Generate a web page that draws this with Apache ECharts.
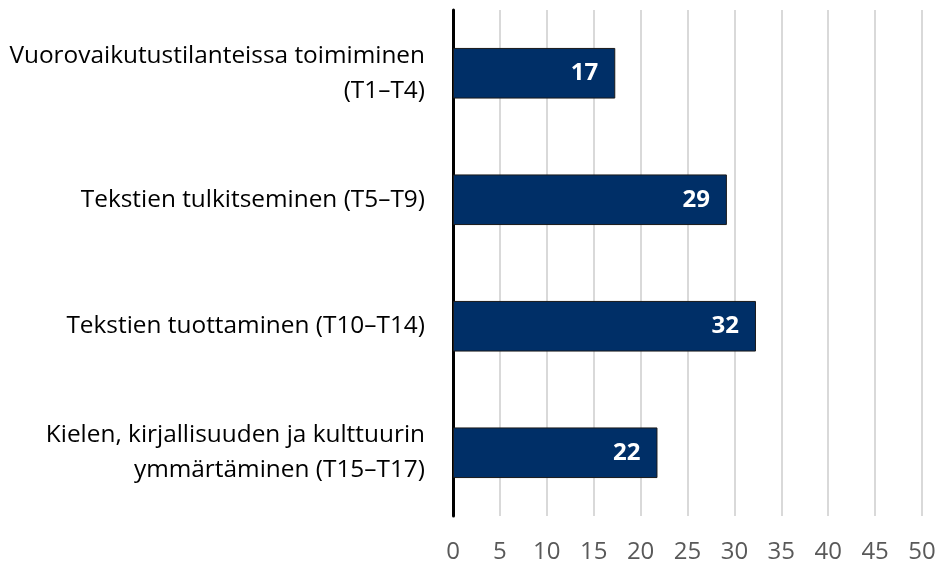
<!DOCTYPE html>
<html>
<head>
<meta charset="utf-8">
<script src="https://cdn.jsdelivr.net/npm/echarts@6/dist/echarts.min.js"></script>
<style>
html,body{margin:0;padding:0;background:#fff;}
#chart{width:940px;height:566px;}
</style>
</head>
<body>
<div id="chart"></div>
<script>
const categories = [
  "Vuorovaikutustilanteissa toimiminen\n(T1–T4)",
  "Tekstien tulkitseminen (T5–T9)",
  "Tekstien tuottaminen (T10–T14)",
  "Kielen, kirjallisuuden ja kulttuurin\nymmärtäminen (T15–T17)"
];
const values = [17.3, 29.2, 32.3, 21.8];
const xTicks = [0, 5, 10, 15, 20, 25, 30, 35, 40, 45, 50];

const chart = echarts.init(document.getElementById('chart'));
chart.setOption({
  animation: false,
  grid: { left: 453, right: 18, top: 10, bottom: 50, containLabel: false },
  xAxis: {
    type: 'value',
    min: xTicks[0],
    max: xTicks[xTicks.length - 1],
    interval: 5,
    axisLine: { show: false },
    axisTick: { show: false },
    splitLine: { show: true, lineStyle: { color: '#d9d9d9', width: 2 } },
    axisLabel: {
      fontFamily: 'Open Sans',
      fontSize: 24,
      color: '#595959',
      margin: 24
    }
  },
  yAxis: {
    type: 'category',
    data: categories,
    inverse: true,
    axisLine: { show: true, lineStyle: { color: '#000', width: 3 } },
    axisTick: { show: false },
    axisLabel: {
      fontFamily: 'Open Sans',
      fontSize: 24.4,
      color: '#000',
      lineHeight: 35,
      margin: 28,
      align: 'right'
    }
  },
  series: [{
    type: 'bar',
    data: values,
    barWidth: '40%',
    itemStyle: { color: '#002F67', borderColor: '#1a1a1a', borderWidth: 1 },
    label: {
      show: true,
      position: 'insideRight',
      distance: 17,
      color: '#fff',
      fontFamily: 'Open Sans',
      fontWeight: 'bold',
      fontSize: 24,
      formatter: p => Math.round(p.value)
    }
  }]
});
</script>
</body>
</html>
